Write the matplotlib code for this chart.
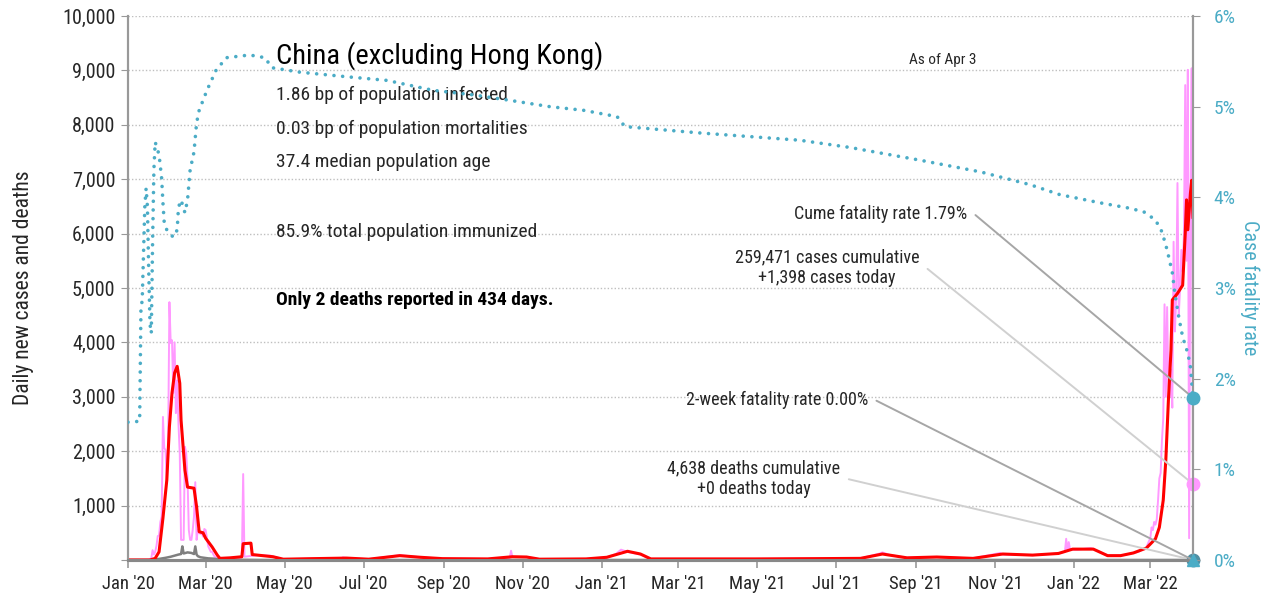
import matplotlib
matplotlib.use('Agg')
import matplotlib.pyplot as plt
import matplotlib.dates as mdates
from matplotlib import font_manager
from matplotlib.ticker import FuncFormatter
import pandas as pd

# pick a narrow face if one is installed
names = {f.name for f in font_manager.fontManager.ttflist}
FONT = next((n for n in ["Liberation Sans Narrow", "Roboto Condensed", "Open Sans Condensed"]
             if n in names), "DejaVu Sans")
plt.rcParams['font.family'] = [FONT, 'DejaVu Sans']
if FONT == "DejaVu Sans":
    plt.rcParams['font.stretch'] = 'condensed'

TEAL = "#4bacc6"
PINK = "#ff99ff"
RED = "#ff0000"
GREY = "#7f7f7f"
TXT = "#262626"

# --- data ---
cases_dates = [
    "2020-01-01", "2020-01-17", "2020-01-18", "2020-01-19", "2020-01-20", "2020-01-21", "2020-01-22",
    "2020-01-23", "2020-01-24", "2020-01-25", "2020-01-26", "2020-01-27", "2020-01-28", "2020-01-29",
    "2020-01-30", "2020-01-31", "2020-02-01", "2020-02-02", "2020-02-03", "2020-02-04", "2020-02-05",
    "2020-02-06", "2020-02-07", "2020-02-08", "2020-02-09", "2020-02-10", "2020-02-11", "2020-02-12",
    "2020-02-13", "2020-02-14", "2020-02-15", "2020-02-16", "2020-02-17", "2020-02-18", "2020-02-19",
    "2020-02-20", "2020-02-21", "2020-02-22", "2020-02-23", "2020-02-24", "2020-02-25", "2020-02-26",
    "2020-02-27", "2020-02-28", "2020-02-29", "2020-03-01", "2020-03-02", "2020-03-03", "2020-03-04",
    "2020-03-05", "2020-03-06", "2020-03-07", "2020-03-08", "2020-03-10", "2020-03-12", "2020-03-20",
    "2020-03-29", "2020-03-30", "2020-03-31", "2020-04-10", "2020-04-20", "2020-04-30", "2020-05-23",
    "2020-06-14", "2020-06-15", "2020-06-18", "2020-07-05", "2020-07-29", "2020-08-14", "2020-08-31",
    "2020-10-05", "2020-10-22", "2020-10-23", "2020-10-24", "2020-11-04", "2020-11-14", "2020-12-20",
    "2021-01-05", "2021-01-12", "2021-01-16", "2021-01-21", "2021-01-31", "2021-02-08", "2021-03-18",
    "2021-05-01", "2021-06-15", "2021-07-20", "2021-08-04", "2021-08-06", "2021-08-12", "2021-08-25",
    "2021-09-17", "2021-10-15", "2021-11-05", "2021-11-07", "2021-11-30", "2021-12-20", "2021-12-25",
    "2021-12-26", "2021-12-27", "2021-12-28", "2021-12-29", "2022-01-04", "2022-01-14", "2022-01-16",
    "2022-01-27", "2022-02-06", "2022-02-16", "2022-02-20", "2022-02-22", "2022-02-24", "2022-02-26",
    "2022-02-28", "2022-03-01", "2022-03-02", "2022-03-03", "2022-03-04", "2022-03-05", "2022-03-06",
    "2022-03-07", "2022-03-08", "2022-03-09", "2022-03-10", "2022-03-11", "2022-03-12", "2022-03-13",
    "2022-03-14", "2022-03-15", "2022-03-16", "2022-03-17", "2022-03-18", "2022-03-19", "2022-03-20",
    "2022-03-21", "2022-03-22", "2022-03-23", "2022-03-24", "2022-03-25", "2022-03-26", "2022-03-27",
    "2022-03-28", "2022-03-29", "2022-03-30", "2022-03-31", "2022-04-01", "2022-04-02", "2022-04-03",
]
cases_daily = [
    0, 5, 20, 30, 180, 100, 150,
    260, 440, 450, 700, 800, 2630, 2060,
    2020, 1410, 2100, 4740, 3990, 4040, 3070,
    4000, 2700, 3300, 2500, 1960, 370, 370,
    370, 2080, 1960, 1500, 550, 370, 370,
    550, 800, 1430, 370, 550, 500, 480,
    500, 430, 570, 550, 400, 250, 200,
    150, 150, 100, 60, 30, 15, 40,
    50, 1580, 60, 90, 80, 15, 25,
    20, 50, 35, 15, 90, 50, 25,
    20, 40, 170, 60, 55, 15, 20,
    50, 110, 190, 150, 100, 20, 20,
    20, 25, 30, 120, 140, 90, 40,
    55, 30, 130, 100, 90, 120, 150,
    390, 170, 330, 190, 190, 220, 200,
    80, 80, 130, 150, 180, 200, 230,
    350, 400, 600, 550, 700, 650, 750,
    1100, 1500, 1600, 2200, 2600, 4700, 3000,
    4650, 3200, 3000, 3500, 2800, 5850, 4200,
    4800, 6930, 4500, 5000, 5700, 5300, 6000,
    8730, 5500, 9010, 400, 6500, 9040, 1398,
]

avg_dates = [
    "2020-01-01", "2020-01-18", "2020-01-22", "2020-01-25", "2020-01-28", "2020-01-31", "2020-02-02",
    "2020-02-04", "2020-02-06", "2020-02-08", "2020-02-10", "2020-02-11", "2020-02-14", "2020-02-16",
    "2020-02-21", "2020-02-23", "2020-02-25", "2020-02-28", "2020-03-01", "2020-03-06", "2020-03-10",
    "2020-03-12", "2020-03-20", "2020-03-29", "2020-03-30", "2020-04-05", "2020-04-06", "2020-04-22",
    "2020-04-30", "2020-05-23", "2020-06-18", "2020-07-05", "2020-07-29", "2020-08-14", "2020-08-31",
    "2020-10-05", "2020-10-24", "2020-11-04", "2020-11-14", "2020-12-20", "2021-01-05", "2021-01-21",
    "2021-01-31", "2021-02-08", "2021-03-18", "2021-05-01", "2021-06-15", "2021-07-20", "2021-08-06",
    "2021-08-25", "2021-09-17", "2021-10-15", "2021-11-07", "2021-11-30", "2021-12-20", "2021-12-31",
    "2022-01-16", "2022-01-27", "2022-02-06", "2022-02-16", "2022-02-26", "2022-03-05", "2022-03-08",
    "2022-03-11", "2022-03-13", "2022-03-15", "2022-03-17", "2022-03-18", "2022-03-22", "2022-03-26",
    "2022-03-28", "2022-03-29", "2022-03-30", "2022-04-01", "2022-04-02", "2022-04-03",
]
cases_avg = [
    0, 0, 30, 150, 770, 1470, 2450,
    3070, 3440, 3560, 3250, 2570, 1650, 1340,
    1320, 980, 520, 500, 400, 240, 90,
    30, 40, 60, 300, 310, 100, 60,
    15, 25, 35, 15, 80, 50, 25,
    20, 60, 55, 15, 20, 50, 160,
    110, 20, 20, 20, 25, 30, 110,
    40, 55, 30, 110, 90, 120, 200,
    200, 80, 80, 130, 220, 390, 600,
    1100, 1840, 2940, 3860, 4780, 4900, 5050,
    6000, 6620, 6070, 6740, 6980, 6300,
]

deaths_dates = [
    "2020-01-01", "2020-01-20", "2020-01-25", "2020-01-30", "2020-02-03", "2020-02-06", "2020-02-09",
    "2020-02-11", "2020-02-12", "2020-02-13", "2020-02-16", "2020-02-19", "2020-02-21", "2020-02-22",
    "2020-02-23", "2020-02-24", "2020-02-26", "2020-02-29", "2020-03-03", "2020-03-07", "2020-03-10",
    "2020-03-14", "2020-03-20", "2020-04-01", "2020-04-15", "2022-04-03",
]
deaths_daily = [
    0, 0, 20, 40, 60, 80, 100,
    110, 250, 120, 140, 130, 110, 250,
    100, 70, 50, 40, 30, 25, 15,
    10, 5, 3, 0, 0,
]

cfr_dates = [
    "2020-01-01", "2020-01-10", "2020-01-11", "2020-01-12", "2020-01-14", "2020-01-15", "2020-01-16",
    "2020-01-17", "2020-01-18", "2020-01-19", "2020-01-20", "2020-01-21", "2020-01-22", "2020-01-25",
    "2020-01-27", "2020-01-28", "2020-01-29", "2020-01-31", "2020-02-05", "2020-02-08", "2020-02-09",
    "2020-02-11", "2020-02-14", "2020-02-16", "2020-02-18", "2020-02-21", "2020-02-23", "2020-02-25",
    "2020-03-02", "2020-03-09", "2020-03-17", "2020-04-04", "2020-04-16", "2020-04-21", "2020-05-13",
    "2020-06-18", "2020-07-19", "2020-08-24", "2020-09-24", "2020-10-22", "2020-11-22", "2020-12-18",
    "2021-01-13", "2021-01-19", "2021-03-18", "2021-06-03", "2021-07-12", "2021-08-04", "2021-09-04",
    "2021-10-21", "2021-11-28", "2021-12-21", "2022-01-21", "2022-02-13", "2022-02-24", "2022-03-05",
    "2022-03-10", "2022-03-14", "2022-03-18", "2022-03-20", "2022-03-23", "2022-03-26", "2022-03-30",
    "2022-04-01", "2022-04-03",
]
cfr_pct = [
    1.52, 1.53, 2.76, 2.87, 3.90, 4.10, 3.90,
    3.20, 2.60, 2.50, 3.50, 4.30, 4.61, 4.47,
    4.21, 3.94, 3.72, 3.64, 3.56, 3.64, 3.89,
    3.97, 3.83, 3.97, 4.30, 4.50, 4.82, 4.96,
    5.18, 5.40, 5.54, 5.57, 5.54, 5.43, 5.38,
    5.33, 5.29, 5.18, 5.13, 5.07, 5.00, 4.96,
    4.89, 4.78, 4.71, 4.63, 4.55, 4.49, 4.41,
    4.28, 4.14, 4.03, 3.94, 3.88, 3.84, 3.75,
    3.62, 3.42, 3.17, 2.94, 2.68, 2.46, 2.28,
    2.13, 1.79,
]

last_day = pd.Timestamp("2022-04-03")
cases_today = 1398
deaths_today = 0
cume_cfr = 1.79
two_week_cfr = 0.0

tick_dates = pd.date_range("2020-01-01", "2022-03-01", freq="2MS")

# --- plot ---
fig = plt.figure(figsize=(12.68, 6.02), dpi=100)
ax = fig.add_axes([128 / 1268, 42 / 602, 1065 / 1268, 544 / 602])
ax2 = ax.twinx()

ax.plot(pd.to_datetime(cases_dates), cases_daily, color=PINK, lw=1.4, zorder=2)
ax.plot(pd.to_datetime(deaths_dates), deaths_daily, color=GREY, lw=1.8, zorder=3)
ax.plot(pd.to_datetime(avg_dates), cases_avg, color=RED, lw=2.2, zorder=4)
ax2.plot(pd.to_datetime(cfr_dates), cfr_pct, color=TEAL, lw=2.6,
         linestyle=(0, (0.01, 2.4)), dash_capstyle="round", zorder=3)

ax.set_xlim(pd.Timestamp("2020-01-01"), last_day)
ax.set_ylim(0, 10000)
ax2.set_ylim(0, 6)

ax.set_xticks(tick_dates)
ax.xaxis.set_major_formatter(mdates.DateFormatter("%b '%y"))
ax.set_yticks(range(0, 10001, 1000))
ax.yaxis.set_major_formatter(FuncFormatter(lambda v, p: "" if v == 0 else f"{int(v):,}"))
ax2.set_yticks(range(0, 7))
ax2.yaxis.set_major_formatter(FuncFormatter(lambda v, p: f"{int(v)}%"))

ax.grid(axis="y", color="#bfbfbf", linestyle=(0, (1, 1.5)), lw=1)
ax.set_axisbelow(True)

for a in (ax, ax2):
    a.spines["top"].set_visible(False)
    a.spines["left"].set_color("#999999")
    a.spines["right"].set_color("#999999")
    a.spines["left"].set_linewidth(1.5)
    a.spines["right"].set_linewidth(1.5)
    a.spines["bottom"].set_color("#888888")
    a.spines["bottom"].set_linewidth(2.2)

ax.tick_params(axis="y", length=5, color="#999999", labelsize=14.5, labelcolor=TXT, pad=4)
ax.tick_params(axis="x", length=6, width=1.2, color="#999999", labelsize=13.5, labelcolor=TXT, pad=5)
ax2.tick_params(axis="y", length=5, color="#999999", labelsize=14, labelcolor=TEAL, pad=10)

ax.set_ylabel("Daily new cases and deaths", fontsize=15.5, color=TXT, labelpad=20)
ax2.set_ylabel("Case fatality rate", fontsize=14.5, color=TEAL, rotation=270, labelpad=17)

# end-of-series markers
ax2.plot([last_day], [cume_cfr], "o", color=TEAL, ms=9, clip_on=False, zorder=6)
ax.plot([last_day], [cases_today], "o", color=PINK, ms=9, clip_on=False, zorder=6)
ax.plot([last_day], [deaths_today], "o", color="#4f8fa3", ms=9, clip_on=False, zorder=6)
ax2.plot([last_day], [two_week_cfr], "^", color=TEAL, ms=9, clip_on=False, zorder=7)

# callouts
def callout(axis, text, target, xytext, color):
    axis.annotate(text, xy=(last_day, target), xycoords="data",
                  xytext=xytext, textcoords="axes fraction",
                  ha="right", va="center", multialignment="center",
                  fontsize=13, color=TXT, annotation_clip=False,
                  arrowprops=dict(arrowstyle="-", color=color, lw=1.4,
                                  relpos=(1, 0.5), shrinkA=4, shrinkB=0,
                                  connectionstyle="arc,angleA=0,armA=7,angleB=0,armB=0,rad=0"),
                  zorder=5)

callout(ax2, f"Cume fatality rate {cume_cfr:.2f}%", cume_cfr, (0.788, 0.636), "#a6a6a6")
callout(ax, f"259,471 cases cumulative\n+{cases_today:,} cases today", cases_today,
        (0.743, 0.537), "#d0d0d0")
callout(ax2, f"2-week fatality rate {two_week_cfr:.2f}%", two_week_cfr, (0.695, 0.294), "#a6a6a6")
callout(ax, f"4,638 deaths cumulative\n+{deaths_today} deaths today", deaths_today,
        (0.669, 0.149), "#d0d0d0")

# text block
tx = 0.139
ax.text(tx, 0.928, "China (excluding Hong Kong)", transform=ax.transAxes,
        fontsize=20.5, color="black", va="center")
ax.text(tx, 0.855, "1.86 bp of population infected", transform=ax.transAxes,
        fontsize=14, color=TXT, va="center")
ax.text(tx, 0.792, "0.03 bp of population mortalities", transform=ax.transAxes,
        fontsize=14, color=TXT, va="center")
ax.text(tx, 0.732, "37.4 median population age", transform=ax.transAxes,
        fontsize=14, color=TXT, va="center")
ax.text(tx, 0.603, "85.9% total population immunized", transform=ax.transAxes,
        fontsize=14, color=TXT, va="center")
ax.text(tx, 0.478, "Only 2 deaths reported in 434 days.", transform=ax.transAxes,
        fontsize=14, color="black", fontweight="bold", va="center")
ax.text(0.765, 0.919, "As of Apr 3", transform=ax.transAxes,
        fontsize=11, color=TXT, ha="center", va="center")

fig.savefig("out.png", dpi=100)
